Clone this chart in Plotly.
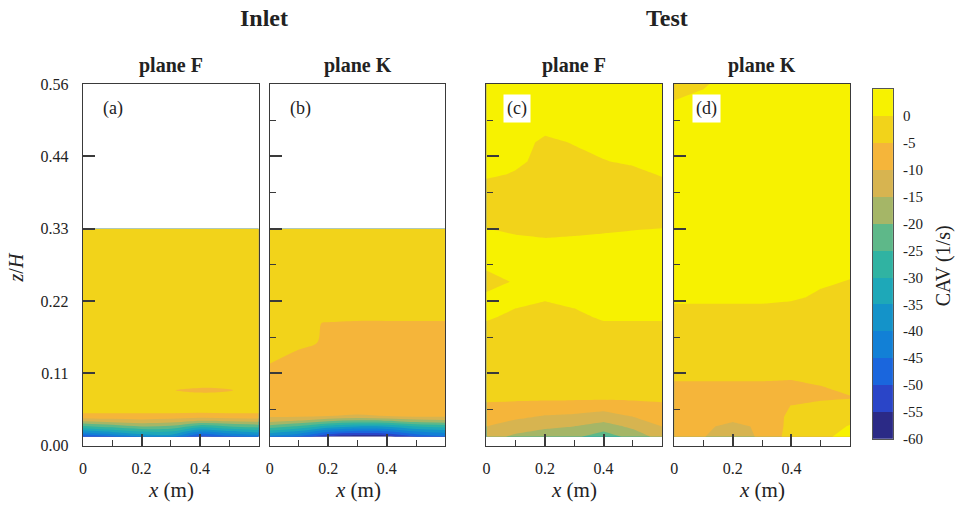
import plotly.graph_objects as go

# ---------------- data ----------------
X_GRID = [0.0, 0.1, 0.2, 0.3, 0.4, 0.5, 0.6]

# (a) Inlet, plane F
Z_A = [0.014, 0.022, 0.030, 0.038, 0.046, 0.056, 0.075, 0.086, 0.097, 0.12, 0.2, 0.336]
CAV_A = [
    [-50, -46, -40, -38, -52, -47, -44],
    [-38, -34, -30, -30, -40, -36, -33],
    [-26, -23, -20, -21, -28, -25, -23],
    [-15, -13, -12, -13, -16, -15, -14],
    [-6.5, -6.5, -6.5, -6.5, -7, -6.5, -6.5],
    [-3, -3, -3, -3, -3, -3, -3],
    [-3, -3, -3, -3, -3, -3, -3],
    [-3, -3, -3.5, -4.8, -6, -5.3, -3],
    [-3, -3, -3, -3, -3, -3, -3],
    [-3, -3, -3, -3, -3, -3, -3],
    [-3, -3, -3, -3, -3, -3, -3],
    [-3, -3, -3, -3, -3, -3, -3],
]

# (b) Inlet, plane K
Z_B = [0.014, 0.022, 0.030, 0.038, 0.046, 0.056, 0.09, 0.127, 0.16, 0.19, 0.20, 0.25, 0.336]
CAV_B = [
    [-42, -46, -56, -58, -57, -50, -46],
    [-32, -36, -44, -47, -46, -40, -38],
    [-22, -26, -32, -35, -34, -30, -28],
    [-14, -16, -20, -22, -21, -18, -17],
    [-9, -9, -10, -11, -10, -9, -9],
    [-7, -7, -7, -7, -7, -7, -7],
    [-7, -7, -7, -7, -7, -7, -7],
    [-5, -6, -7, -7, -7, -7, -7],
    [-4, -4.5, -5.3, -7, -7, -7, -7],
    [-3.5, -4, -5.3, -6, -6, -6, -6],
    [-3, -3, -3, -3, -3, -3, -3],
    [-3, -3, -3, -3, -3, -3, -3],
    [-3, -3, -3, -3, -3, -3, -3],
]

# (c) Test, plane F
Z_C = [0.014, 0.03, 0.045, 0.06, 0.075, 0.15, 0.18, 0.2, 0.23, 0.254, 0.28,
       0.30, 0.32, 0.34, 0.40, 0.42, 0.44, 0.47, 0.50, 0.56]
CAV_C = [
    [-13, -16, -18, -19, -23, -18, -13],
    [-10, -12.5, -14, -15, -17, -14, -10],
    [-8, -9, -10.5, -11, -12.5, -10, -8],
    [-6, -6.5, -7, -7.5, -8, -7, -6],
    [-4, -4, -4, -4, -4, -4, -4],
    [-3, -3, -3, -3, -3, -3, -3],
    [-2, -2, -2, -2, -2, -2, -2],
    [1, -1.5, -2, -1.5, 1, 1, 1],
    [1, 2, 0.5, 2, 2, 2, 2],
    [-2, 0.5, 2, 2, 2, 2, 2],
    [1, 2, 2, 2, 2, 2, 2],
    [2, 2, 2, 2, 2, 2, 2],
    [1, 0.5, 0.2, 0.5, 0.8, 1, 1],
    [-0.2, -1, -2, -1.5, -1, -0.5, -0.2],
    [-2, -2, -2, -2, -2, -2, -2],
    [1, -0.5, -2, -2, -2, -2, 0.5],
    [2, 1, -1.5, -1.5, -0.3, 1, 2],
    [2, 2, -1, 0.3, 2, 2, 2],
    [2, 2, 2, 2, 2, 2, 2],
    [2, 2, 2, 2, 2, 2, 2],
]

# (d) Test, plane K
Z_D = [0.014, 0.03, 0.045, 0.062, 0.075, 0.09, 0.105, 0.15, 0.20, 0.23, 0.26, 0.30, 0.52, 0.56]
CAV_D = [
    [-8, -9.8, -13, -9, -3, -1, 1.5],
    [-8, -9, -11.5, -9, -3.5, -2, 0.3],
    [-8, -8, -8.3, -8, -4, -3, -1.5],
    [-8, -8, -8, -7.5, -4.9, -3.5, -2.5],
    [-7.5, -7.5, -7.5, -7.5, -7, -6, -5.5],
    [-7, -7, -7, -7, -7, -5.5, -3],
    [-4, -4, -4, -4, -4.5, -3, -2.5],
    [-3, -3, -3, -3, -3, -3, -3],
    [-2, -2, -2, -2, -2, -2, -2],
    [1, 1, 1, 1, 0.5, -0.5, -2],
    [2, 2, 2, 2, 2, 0.65, 0.14],
    [2, 2, 2, 2, 2, 2, 2],
    [2, 2, 2, 2, 2, 2, 2],
    [-3.5, -0.5, 2, 2, 2, 2, 2],
]

LEVEL_START, LEVEL_END, LEVEL_SIZE = -55, 0, 5
CB_MIN, CB_MAX = -60, 5
BAND_COLORS = [  # -60..-55 up to 0..5
    "#2b2a86", "#2a45c8", "#1a66dd", "#1280d6", "#1493c9", "#1ea8b8", "#30b3a2",
    "#5eb889", "#a5b667", "#d7b450", "#f5b53a", "#f2d31a", "#f7f200",
]
CB_TICKS = list(range(-60, 1, 5))
Y_TICKS = [0.0, 0.112, 0.224, 0.336, 0.448, 0.56]
Y_TICK_TEXT = ["0.00", "0.11", "0.22", "0.33", "0.44", "0.56"]
Y_MINOR = [0.056, 0.168, 0.28, 0.392, 0.504]
X_TICKS = [0, 0.2, 0.4]
X_TICK_TEXT = ["0", "0.2", "0.4"]
X_MINOR = [0.1, 0.3, 0.5]

PANELS = [
    ("(a)", "plane F", Z_A, CAV_A, 1.0),
    ("(b)", "plane K", Z_B, CAV_B, 1.0),
    ("(c)", "plane F", Z_C, CAV_C, 0.0),
    ("(d)", "plane K", Z_D, CAV_D, 0.0),
]

# ---------------- layout geometry (target pixels in the photo) ----------------
W, H = 956, 507
PX_LEFT = [82, 269, 486, 674]
PX_WIDTH = 176
PY_TOP, PY_BOT = 84, 447
CB_LEFT, CB_RIGHT, CB_TOP, CB_BOT = 873, 893, 89, 440
FONT = "Liberation Serif"
INK = "#222222"
LINE = "#3a3a3a"

# the page is photographed slightly offset/compressed: compensate
OFF_X, SC_X = 3.0, 0.997
OFF_Y, SC_Y = 7.6, 0.970


def fx(px):
    return (px - OFF_X) / SC_X / W


def fy(py):
    return 1 - (py - OFF_Y) / SC_Y / H


n = len(BAND_COLORS)
colorscale = [[k / (n - 1), c] for k, c in enumerate(BAND_COLORS)]

fig = go.Figure()
layout = dict(
    width=W, height=H, margin=dict(l=0, r=0, t=0, b=0, pad=0),
    paper_bgcolor="white", plot_bgcolor="white", showlegend=False,
    font=dict(family=FONT, color=INK),
)
annotations = []


def ann(x, y, text, size, angle=0, bg=None):
    d = dict(x=fx(x), y=fy(y), xref="paper", yref="paper", text=text,
             showarrow=False, xanchor="center", yanchor="middle", textangle=angle,
             font=dict(family=FONT, size=size, color=INK))
    if bg:
        d["bgcolor"] = bg
        d["borderpad"] = 3
    return d


for i, (lab, plane, zz, vals, smooth) in enumerate(PANELS):
    ax = "" if i == 0 else str(i + 1)
    fig.add_trace(go.Contour(
        x=X_GRID, y=zz, z=vals,
        xaxis="x" + ax, yaxis="y" + ax,
        autocontour=False,
        contours=dict(start=LEVEL_START, end=LEVEL_END, size=LEVEL_SIZE,
                      coloring="fill", showlines=False),
        line=dict(width=0, smoothing=smooth),
        colorscale=colorscale,
        showscale=False,
        hoverinfo="skip",
    ))
    layout["xaxis" + ax] = dict(
        domain=[fx(PX_LEFT[i]), fx(PX_LEFT[i] + PX_WIDTH)], range=[0, 0.6], anchor="y" + ax,
        showline=True, mirror=True, linecolor=LINE, linewidth=1.3,
        showgrid=False, zeroline=False,
        tickmode="array", tickvals=X_TICKS, ticktext=X_TICK_TEXT,
        ticks="inside", ticklen=12, tickwidth=1.5, tickcolor=LINE,
        minor=dict(tickmode="array", tickvals=X_MINOR, ticks="inside",
                   ticklen=6, tickwidth=1.3, tickcolor=LINE, showgrid=False),
        tickfont=dict(family=FONT, size=16, color=INK),
        ticklabelstandoff=8,
    )
    ydict = dict(
        domain=[fy(PY_BOT), fy(PY_TOP)], range=[0, 0.56], anchor="x" + ax,
        showline=True, mirror=True, linecolor=LINE, linewidth=1.3,
        showgrid=False, zeroline=False,
        tickmode="array", tickvals=Y_TICKS, ticktext=Y_TICK_TEXT,
        ticks="inside", ticklen=12, tickwidth=1.5, tickcolor=LINE,
        tickfont=dict(family=FONT, size=16, color=INK),
        showticklabels=(i == 0), ticklabelstandoff=10,
    )
    if i > 0:
        ydict["minor"] = dict(tickmode="array", tickvals=Y_MINOR, ticks="inside",
                              ticklen=6, tickwidth=1.3, tickcolor=LINE, showgrid=False)
    layout["yaxis" + ax] = ydict

    cx = PX_LEFT[i] + PX_WIDTH / 2
    annotations.append(ann(cx, 65, "<b>%s</b>" % plane, 20))
    annotations.append(ann(cx, 491, "<i>x</i> (m)", 21))
    lab_x = [112, 300, 517, 706][i]
    annotations.append(ann(lab_x, 108, lab, 18, bg="white" if i >= 2 else None))

# ---------------- manual colour bar (one cell per band) ----------------
band_mid = [CB_MIN + LEVEL_SIZE * (k + 0.5) for k in range(n)]
fig.add_trace(go.Heatmap(
    x=[0.5], y=band_mid, z=[[v] for v in band_mid],
    xaxis="x5", yaxis="y5",
    colorscale=colorscale, zmin=band_mid[0], zmax=band_mid[-1],
    showscale=False, hoverinfo="skip",
))
layout["xaxis5"] = dict(domain=[fx(CB_LEFT), fx(CB_RIGHT)], range=[0, 1], anchor="y5",
                        showline=True, mirror=True, linecolor="#555555", linewidth=1,
                        showticklabels=False, ticks="", showgrid=False, zeroline=False)
layout["yaxis5"] = dict(domain=[fy(CB_BOT), fy(CB_TOP)], range=[CB_MIN, CB_MAX],
                        anchor="x5", side="right",
                        showline=True, mirror=True, linecolor="#555555", linewidth=1,
                        tickmode="array", tickvals=CB_TICKS,
                        ticktext=[str(t) for t in CB_TICKS],
                        ticks="", ticklabelstandoff=6,
                        tickfont=dict(family=FONT, size=15, color=INK),
                        showgrid=False, zeroline=False)

annotations += [
    ann(263, 18, "<b>Inlet</b>", 24),
    ann(667, 18, "<b>Test</b>", 24),
    ann(15, 268, "<i>z</i>/<i>H</i>", 20, angle=-90),
    ann(944, 266, "CAV (1/s)", 20, angle=-90),
]
layout["annotations"] = annotations
fig.update_layout(**layout)
fig.write_html("out.html")
